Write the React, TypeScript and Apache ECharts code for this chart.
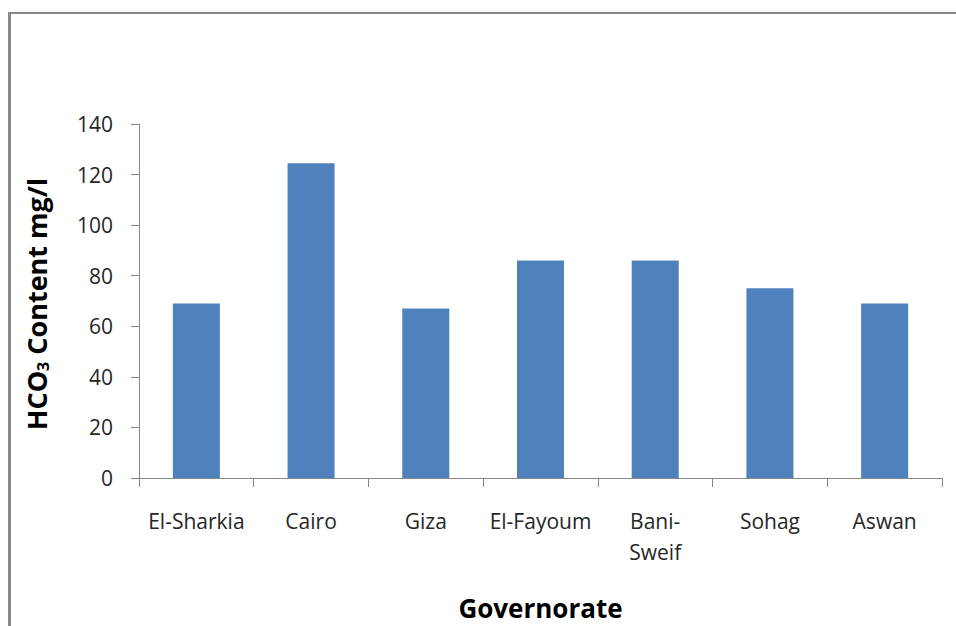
import React, { useEffect, useRef } from "react";
import * as echarts from "echarts";

const categories = ["El-Sharkia", "Cairo", "Giza", "El-Fayoum", "Bani-\nSweif", "Sohag", "Aswan"];
const hco3Values = [69, 124.5, 67, 86, 86, 75, 69];
const yTicks = { min: 0, max: 140, interval: 20 };
const xTitle = "Governorate";

export default function App() {
  const ref = useRef<HTMLDivElement>(null);
  useEffect(() => {
    if (!ref.current) return;
    const chart = echarts.init(ref.current, undefined, { renderer: "svg" });
    const font = "'Open Sans', Lato, sans-serif";
    chart.setOption({
      animation: false,
      backgroundColor: "#ffffff",
      grid: { left: 139, right: 14, top: 124, bottom: 143, containLabel: false },
      xAxis: {
        type: "category",
        data: categories,
        boundaryGap: true,
        axisLine: { lineStyle: { color: "#868686", width: 1 } },
        axisTick: { show: true, length: 9, alignWithLabel: false, lineStyle: { color: "#868686" } },
        axisLabel: {
          color: "#262626",
          fontFamily: font,
          fontSize: 21,
          margin: 27,
          lineHeight: 31,
          interval: 0,
        },
        name: xTitle,
        nameLocation: "middle",
        nameGap: 117,
        nameTextStyle: { color: "#000", fontFamily: font, fontSize: 26, fontWeight: "bold" },
      },
      yAxis: {
        type: "value",
        min: yTicks.min,
        max: yTicks.max,
        interval: yTicks.interval,
        splitLine: { show: false },
        axisLine: { show: true, lineStyle: { color: "#868686", width: 1 } },
        axisTick: { show: true, length: 8, lineStyle: { color: "#868686" } },
        axisLabel: { color: "#262626", fontFamily: font, fontSize: 21, margin: 26 },
      },
      series: [
        {
          type: "bar",
          data: hco3Values,
          barWidth: "41%",
          itemStyle: { color: "#4F81BD" },
        },
      ],
      graphic: [
        {
          type: "line",
          shape: { x1: 8, y1: 13, x2: 956, y2: 13 },
          style: { stroke: "#888888", lineWidth: 2 },
        },
        {
          type: "line",
          shape: { x1: 9.5, y1: 12, x2: 9.5, y2: 626 },
          style: { stroke: "#888888", lineWidth: 3 },
        },
        {
          type: "text",
          x: 36,
          y: 304,
          rotation: Math.PI / 2,
          style: {
            text: "{b|HCO}{s|3}{b| Content mg/l}",
            align: "center",
            verticalAlign: "middle",
            rich: {
              b: { fontFamily: font, fontSize: 27, fontWeight: "bold", fill: "#000" },
              s: { fontFamily: font, fontSize: 16, fontWeight: "bold", fill: "#000", padding: [13, 0, 0, 0] },
            },
          },
        },
      ],
    });
    return () => chart.dispose();
  }, []);
  return (
    <div
      ref={ref}
      style={{ position: "fixed", left: 0, top: 0, width: 956, height: 626 }}
    />
  );
}
